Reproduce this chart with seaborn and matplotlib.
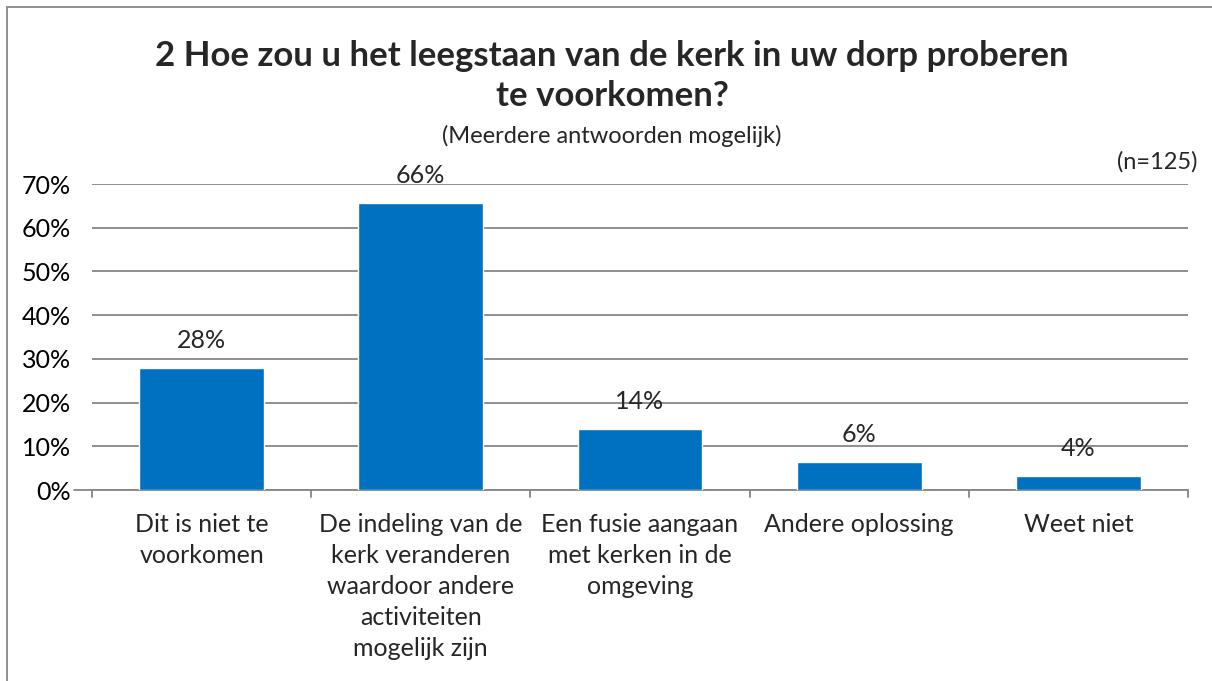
import seaborn as sns
import matplotlib.pyplot as plt
import matplotlib.patches as mpatches
import pandas as pd

categories = ["Dit is niet te\nvoorkomen",
              "De indeling van de\nkerk veranderen\nwaardoor andere\nactiviteiten\nmogelijk zijn",
              "Een fusie aangaan\nmet kerken in de\nomgeving",
              "Andere oplossing",
              "Weet niet"]
values = [28.0, 65.6, 14.0, 6.4, 3.2]
labels = ["28%", "66%", "14%", "6%", "4%"]

df = pd.DataFrame({"cat": categories, "pct": values})

sns.set_theme(style="white")
plt.rcParams['font.family'] = ['Lato', 'DejaVu Sans']

fig = plt.figure(figsize=(12.12, 6.81), dpi=100)
ax = fig.add_axes([92 / 1212, 1 - 490 / 681, (1188 - 92) / 1212, (490 - 184) / 681])

sns.barplot(data=df, x="cat", y="pct", color="#0070C0", width=0.57, saturation=1, ax=ax, zorder=3)

ax.set_ylim(0, 70)
ax.set_xlim(-0.5, 4.5)
ax.set_yticks(range(0, 71, 10))
ax.set_yticklabels([f"{v}%" for v in range(0, 71, 10)], fontsize=18, color="#000000")
ax.yaxis.grid(True, color="#868686", linewidth=1.3, zorder=0)
ax.set_axisbelow(True)
for s in ["top", "right", "left"]:
    ax.spines[s].set_visible(False)
ax.spines["bottom"].set_color("#868686")
ax.spines["bottom"].set_linewidth(1.3)
ax.set_xlabel("")
ax.set_ylabel("")
ax.set_xticks([])
ax.tick_params(axis="y", length=0, pad=15)
# category separator ticks
for b in [-0.5, 0.5, 1.5, 2.5, 3.5, 4.5]:
    ax.plot([b, b], [0, -1.6], color="#868686", lw=1.3, clip_on=False)
ax.plot([-0.5, -0.58], [0, 0], color="#868686", lw=1.3, clip_on=False)
for i, c in enumerate(categories):
    ax.text(i, -5.2, c, ha="center", va="top", fontsize=18, linespacing=1.43)

for i, (v, lab) in enumerate(zip(values, labels)):
    ax.text(i, v + 6.3, lab, ha="center", va="center", fontsize=18)

fig.text(0.505, 1 - 76 / 681, "2 Hoe zou u het leegstaan van de kerk in uw dorp proberen\nte voorkomen?",
         ha="center", va="center", fontsize=25, fontweight="bold", linespacing=1.27)
fig.text(0.505, 1 - 136 / 681, "(Meerdere antwoorden mogelijk)", ha="center", va="center", fontsize=17)
fig.text(1197 / 1212, 1 - 162 / 681, "(n=125)", ha="right", va="center", fontsize=17)

fig.patches.append(mpatches.Rectangle((7 / 1212, -0.01), 1.02, 1 - 7 / 681 + 0.01,
                                      transform=fig.transFigure, fill=False,
                                      edgecolor="#868686", linewidth=1.3))

fig.savefig("out.png", dpi=100, facecolor="white")
